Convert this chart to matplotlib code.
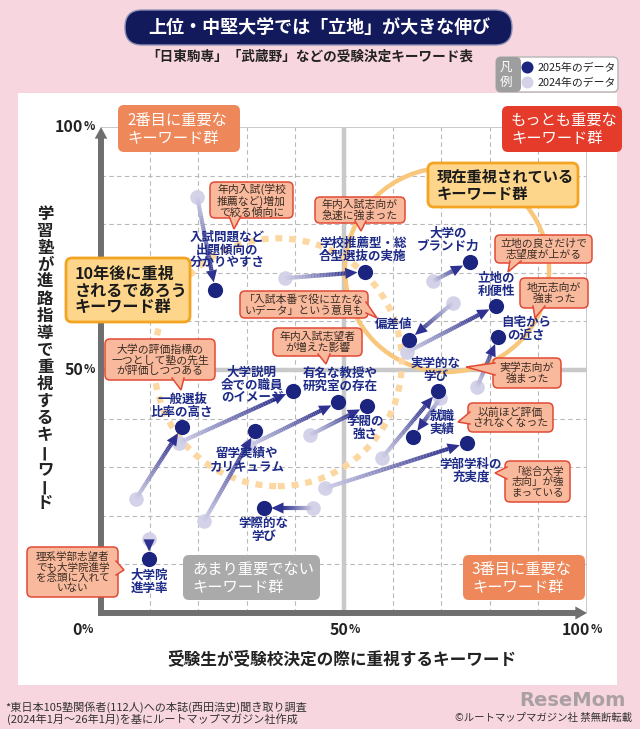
import matplotlib
matplotlib.use('Agg')
import matplotlib.pyplot as plt
import numpy as np
from matplotlib.patches import FancyBboxPatch, Polygon, Circle, Rectangle
from matplotlib.collections import LineCollection
from matplotlib.colors import to_rgb

plt.rcParams['font.family'] = ['Noto Sans CJK JP', 'DejaVu Sans']

# ---------------- data ----------------
keywords = ["入試問題など出題傾向の分かりやすさ", "学校推薦型・総合型選抜の実施", "大学のブランド力",
            "立地の利便性", "偏差値", "自宅からの近さ", "実学的な学び", "就職実績",
            "学部学科の充実度", "有名な教授や研究室の存在", "学閥の強さ",
            "大学説明会での職員のイメージ", "一般選抜比率の高さ", "留学実績やカリキュラム",
            "学際的な学び", "大学院進学率"]
label_text = ["入試問題など\n出題傾向の\n分かりやすさ", "学校推薦型・総\n合型選抜の実施", "大学の\nブランド力",
              "立地の\n利便性", "偏差値", "自宅から\nの近さ", "実学的な\n学び", "就職\n実績",
              "学部学科の\n充実度", "有名な教授や\n研究室の存在", "学閥の\n強さ",
              "大学説明\n会での職員\nのイメージ", "一般選抜\n比率の高さ", "留学実績や\nカリキュラム",
              "学際的な\n学び", "大学院\n進学率"]
x_2024 = [19.8, 37.9, 68.3, 63.0, 72.4, 77.4, 57.8, 69.8, 46.1, 30.5, 43.0, 16.0, 7.2, 21.2, 43.6, 9.9]
y_2024 = [85.6, 68.9, 68.3, 53.7, 63.8, 46.5, 31.9, 44.2, 25.7, 34.4, 36.6, 35.0, 23.5, 18.9, 21.6, 15.2]
x_2025 = [23.5, 54.3, 75.9, 81.3, 63.4, 81.7, 69.3, 64.2, 75.3, 48.8, 54.7, 39.5, 16.7, 31.7, 33.5, 9.9]
y_2025 = [66.5, 70.2, 72.2, 63.2, 56.2, 56.8, 45.7, 36.2, 35.0, 43.4, 42.6, 45.7, 38.3, 37.4, 21.6, 11.1]
# label offsets (pixels: right, down) from the 2025 point
label_dx = [12, -2, -22, 0, -16, 28, -2, 29, 4, 2, -2, -41, 0, -8, 0, 0]
label_dy = [-40, -22, -22, -21, -16, -8, -21, -14, 28, -22, 22, -6, -21, 29, 22, 23]

x_ticks = [0, 50, 100]
y_ticks = [50, 100]
x_tick_dx = [-24, -5, -11]   # pixel shifts of the x tick labels

NAVY = '#1b2580'
LIGHT = '#d3d2e8'
LBL = '#1d2a87'
TXT = '#222222'

fig = plt.figure(figsize=(6.4, 7.29), dpi=100)
fig.patch.set_facecolor('#f8d6df')

# background axes (pixel coordinates)
bg = fig.add_axes([0, 0, 1, 1], zorder=0)
bg.set_xlim(0, 640); bg.set_ylim(729, 0); bg.axis('off')
bg.add_patch(Rectangle((18, 93), 599, 592, fc='white', ec='none'))

# data axes
ax = fig.add_axes([101/640, (729-613)/729, 486/640, 486/729], zorder=1)
ax.set_xlim(0, 100); ax.set_ylim(0, 100); ax.axis('off')

# overlay axes (pixel coordinates)
ov = fig.add_axes([0, 0, 1, 1], zorder=2)
ov.set_xlim(0, 640); ov.set_ylim(729, 0); ov.axis('off')

# ---------- grid ----------
for v in range(10, 100, 10):
    if v == 50:
        continue
    ax.plot([v, v], [0, 100], color='#b9b9b9', lw=0.8, ls=(0, (4, 3)), zorder=0.5)
    ax.plot([0, 100], [v, v], color='#b9b9b9', lw=0.8, ls=(0, (4, 3)), zorder=0.5)
ax.plot([50, 50], [0, 100], color='#c9c9c9', lw=3.2, zorder=0.6, solid_capstyle='butt')
ax.plot([0, 100], [50, 50], color='#c9c9c9', lw=3.2, zorder=0.6, solid_capstyle='butt')
ax.plot([0, 100], [100, 100], color='#c6c6c6', lw=1.3, zorder=0.6)
ax.plot([100, 100], [0, 100], color='#c6c6c6', lw=1.3, zorder=0.6)
AXC = '#6f6f6f'
ax.plot([0, 0], [-0.7, 97.8], color=AXC, lw=4.3, solid_capstyle='butt', clip_on=False, zorder=7)
ax.plot([-0.7, 97.8], [0, 0], color=AXC, lw=4.3, solid_capstyle='butt', clip_on=False, zorder=7)
ax.add_patch(Polygon([(0, 100), (-1.3, 97.6), (1.3, 97.6)], closed=True, fc=AXC, ec='none', clip_on=False, zorder=7))
ax.add_patch(Polygon([(100, 0), (97.6, 1.35), (97.6, -1.35)], closed=True, fc=AXC, ec='none', clip_on=False, zorder=7))

# ---------- group circles ----------
ax.add_patch(Circle((71.2, 70.6), 21.0, fill=False, ec='#f9c77c', lw=3.2, zorder=1))
ax.add_patch(Circle((36.4, 51.6), 25.5, fill=False, ec='#fcd7a2', lw=4.5,
                    ls=(0, (1.1, 1.1)), capstyle='butt', zorder=1))

# ---------- points and arrows ----------
ax.scatter(x_2024, y_2024, s=110, color=LIGHT, zorder=2, linewidths=0)
c0 = np.array(to_rgb('#d0cfe7'))
c1 = np.array(to_rgb('#34368f'))
r_dot = 1.55
h_len = 2.5
h_w = 1.15
for xa, ya, xb, yb in zip(x_2024, y_2024, x_2025, y_2025):
    p0 = np.array([xa, ya]); p1 = np.array([xb, yb])
    d = p1 - p0
    L = np.hypot(*d)
    u = d / L
    n = np.array([-u[1], u[0]])
    tip = p1 - u * r_dot
    base = tip - u * h_len
    seg_len = max(np.dot(base - p0, u), 0)
    if seg_len > 0:
        N = 40
        ts = np.linspace(0, 1, N + 1)
        pts = p0 + np.outer(ts, base - p0)
        segs = np.stack([pts[:-1], pts[1:]], axis=1)
        cols = [tuple(c0 + (c1 - c0) * t) for t in ts[:-1]]
        ax.add_collection(LineCollection(segs, colors=cols, linewidths=3.0, zorder=3, capstyle='butt'))
    ax.add_patch(Polygon([tip, base + n * h_w, base - n * h_w], closed=True, fc='#2e3190', ec='none', zorder=3.5))
ax.scatter(x_2025, y_2025, s=120, color=NAVY, zorder=4, linewidths=0)

for lab, xb, yb, dx, dy in zip(label_text, x_2025, y_2025, label_dx, label_dy):
    ax.annotate(lab, xy=(xb, yb), xytext=(dx, -dy), textcoords='offset pixels',
                ha='center', va='center', fontsize=9, fontweight='bold', color=LBL,
                linespacing=1.0, zorder=6)

# ---------- tick labels ----------
for v, sdx in zip(x_ticks, x_tick_dx):
    t = ax.annotate(str(v), xy=(v, -3.5), xytext=(sdx, 0), textcoords='offset pixels',
                    fontsize=11.5, fontweight='bold', color=TXT, ha='center', va='center',
                    annotation_clip=False, zorder=8)
    ax.annotate('%', xy=(1, 0.14), xycoords=t, fontsize=8.5, fontweight='bold',
                color=TXT, ha='left', va='bottom', zorder=8)
for v in y_ticks:
    t = ax.text(-3.6, v, str(v), fontsize=11.5, fontweight='bold', color=TXT, ha='right',
                va='center', clip_on=False, zorder=8)
    ax.annotate('%', xy=(1, 0.14), xycoords=t, fontsize=8.5, fontweight='bold',
                color=TXT, ha='left', va='bottom', zorder=8)

# axis titles
ov.text(342, 659, '受験生が受験校決定の際に重視するキーワード', fontsize=12, fontweight='bold',
        color=TXT, ha='center', va='center')
ylab = '学習塾が進路指導で重視するキーワード'
for i, ch in enumerate(ylab):
    ov.text(45, 214 + 17.0 * i, ch, fontsize=11.8, fontweight='bold', color=TXT,
            ha='center', va='center', rotation=(90 if ch == 'ー' else 0))

# ---------- helpers for boxes ----------
def rbox(l, t, r, b, fc, ec='none', lw=0, rad=5, z=5):
    p = FancyBboxPatch((l + rad, t + rad), (r - l) - 2 * rad, (b - t) - 2 * rad,
                       boxstyle=f'round,pad={rad}', fc=fc, ec=ec, lw=lw, zorder=z)
    ov.add_patch(p)
    return p

CFC = '#f8b99d'
CEC = '#e24a36'

def callout(l, t, r, b, text, b1, b2, tip, fs=7.8):
    rbox(l, t, r, b, CFC, CEC, 1.1, 5, 5)
    ov.add_patch(Polygon([b1, tip, b2], closed=True, fc=CFC, ec='none', zorder=5.1))
    ov.plot([b1[0], tip[0], b2[0]], [b1[1], tip[1], b2[1]], color=CEC, lw=1.1, zorder=5.2,
            solid_joinstyle='miter')
    ov.text((l + r) / 2, (t + b) / 2 + 0.5, text, fontsize=fs, color='#3a2b22', ha='center',
            va='center', linespacing=1.05, zorder=5.3)

callout(210, 182, 293, 218, '年内入試(学校\n推薦など)増加\nで絞る傾向に', (229, 216), (241, 216), (234, 229))
callout(315, 197, 405, 223, '年内入試志向が\n急速に強まった', (355, 221), (366, 221), (361, 231))
callout(495, 235, 592, 263, '立地の良さだけで\n志望度が上がる', (510, 261), (521, 261), (508, 272))
callout(520, 278, 588, 308, '地元志向が\n強まった', (533, 306), (545, 306), (535, 318))
callout(240, 291, 368, 318, '「入試本番で役に立たな\nいデータ」という意見も', (366, 302), (366, 313), (377, 318))
callout(273, 328, 362, 356, '年内入試志望者\nが増えた影響', (318, 354), (330, 354), (326, 364))
callout(105, 339, 215, 380, '大学の評価指標の\n一つとして塾の先生\nが評価しつつある', (172, 378), (184, 378), (181, 390))
callout(493, 358, 561, 388, '実学志向が\n強まった', (495, 363), (495, 375), (466, 367))
callout(468, 403, 553, 432, '以前ほど評価\nされなくなった', (470, 412), (470, 424), (458, 422))
callout(505, 461, 570, 502, '「総合大学\n志向」が強\nまっている', (507, 467), (507, 479), (495, 473), fs=7.6)
callout(27, 547, 118, 597, '理系学部志望者\nでも大学院進学\nを念頭に入れて\nいない', (116, 561), (116, 575), (124, 570), fs=7.6)

# ---------- group boxes ----------
def gbox(l, t, r, b, text, fc, tc, ec='none', lw=0, bold=False, fs=11, ls=1.1):
    rbox(l, t, r, b, fc, ec, lw, 6, 5.5)
    ov.text(l + 9, (t + b) / 2 + 0.5, text, fontsize=fs, color=tc, ha='left', va='center',
            fontweight=('bold' if bold else 'normal'), linespacing=ls, zorder=5.6)

gbox(118, 105, 240, 152, '2番目に重要な\nキーワード群', '#ee8759', 'white')
gbox(502, 106, 622, 152, 'もっとも重要な\nキーワード群', '#e53b2b', 'white')
gbox(428, 163, 578, 207, '現在重視されている\nキーワード群', '#fdd68b', '#1a1a1a', '#f4a423', 2, True)
gbox(66, 258, 190, 322, '10年後に重視\nされるであろう\nキーワード群', '#fdd68b', '#1a1a1a', '#f4a423', 2, True,
     fs=11.6, ls=1.02)
gbox(183, 555, 320, 600, 'あまり重要でない\nキーワード群', '#aaaaaa', 'white')
gbox(463, 555, 585, 600, '3番目に重要な\nキーワード群', '#ee8759', 'white')

# ---------- title ----------
bg.add_patch(FancyBboxPatch((142, 27), 353, 1, boxstyle='round,pad=17', fc='#131a5c',
                            ec='#8d90b5', lw=1, zorder=2))
bg.text(319, 27.5, '上位・中堅大学では「立地」が大きな伸び', fontsize=13, fontweight='bold',
        color='white', ha='center', va='center', zorder=3)
bg.text(310, 57, '「日東駒専」「武蔵野」などの受験決定キーワード表', fontsize=9.8, fontweight='bold',
        color=TXT, ha='center', va='center', zorder=3)

# legend
bg.add_patch(FancyBboxPatch((501, 62), 112, 25, boxstyle='round,pad=5', fc='white',
                            ec='#b5b5b5', lw=1, zorder=2))
bg.add_patch(FancyBboxPatch((501, 62), 15, 25, boxstyle='round,pad=5', fc='#9e9e9e',
                            ec='none', zorder=2.1))
bg.add_patch(Rectangle((512, 57), 5, 35, fc='#9e9e9e', ec='none', zorder=2.2))
bg.text(506, 67, '凡', fontsize=9, color='white', ha='center', va='center', zorder=3)
bg.text(506, 82, '例', fontsize=9, color='white', ha='center', va='center', zorder=3)
bg.scatter([527], [67], s=75, color=NAVY, zorder=3, linewidths=0)
bg.scatter([527], [82], s=75, color=LIGHT, zorder=3, linewidths=0)
bg.text(538, 67.5, '2025年のデータ', fontsize=7.8, color=TXT, ha='left', va='center', zorder=3)
bg.text(538, 82.5, '2024年のデータ', fontsize=7.8, color=TXT, ha='left', va='center', zorder=3)

# footnotes
bg.text(5, 707, '*東日本105塾関係者(112人)への本誌(西田浩史)聞き取り調査', fontsize=8,
        color='#333333', ha='left', va='center')
bg.text(7, 719, '(2024年1月〜26年1月)を基にルートマップマガジン社作成', fontsize=8,
        color='#333333', ha='left', va='center')
bg.text(626, 700, 'ReseMom', fontsize=14, fontweight='bold', color='#8a8a8a', alpha=0.7,
        ha='right', va='center', family=['DejaVu Sans'])
bg.text(632, 718, '©ルートマップマガジン社 禁無断転載', fontsize=7.5, color='#333333',
        ha='right', va='center')

fig.savefig('out.png', dpi=100, facecolor=fig.get_facecolor())
